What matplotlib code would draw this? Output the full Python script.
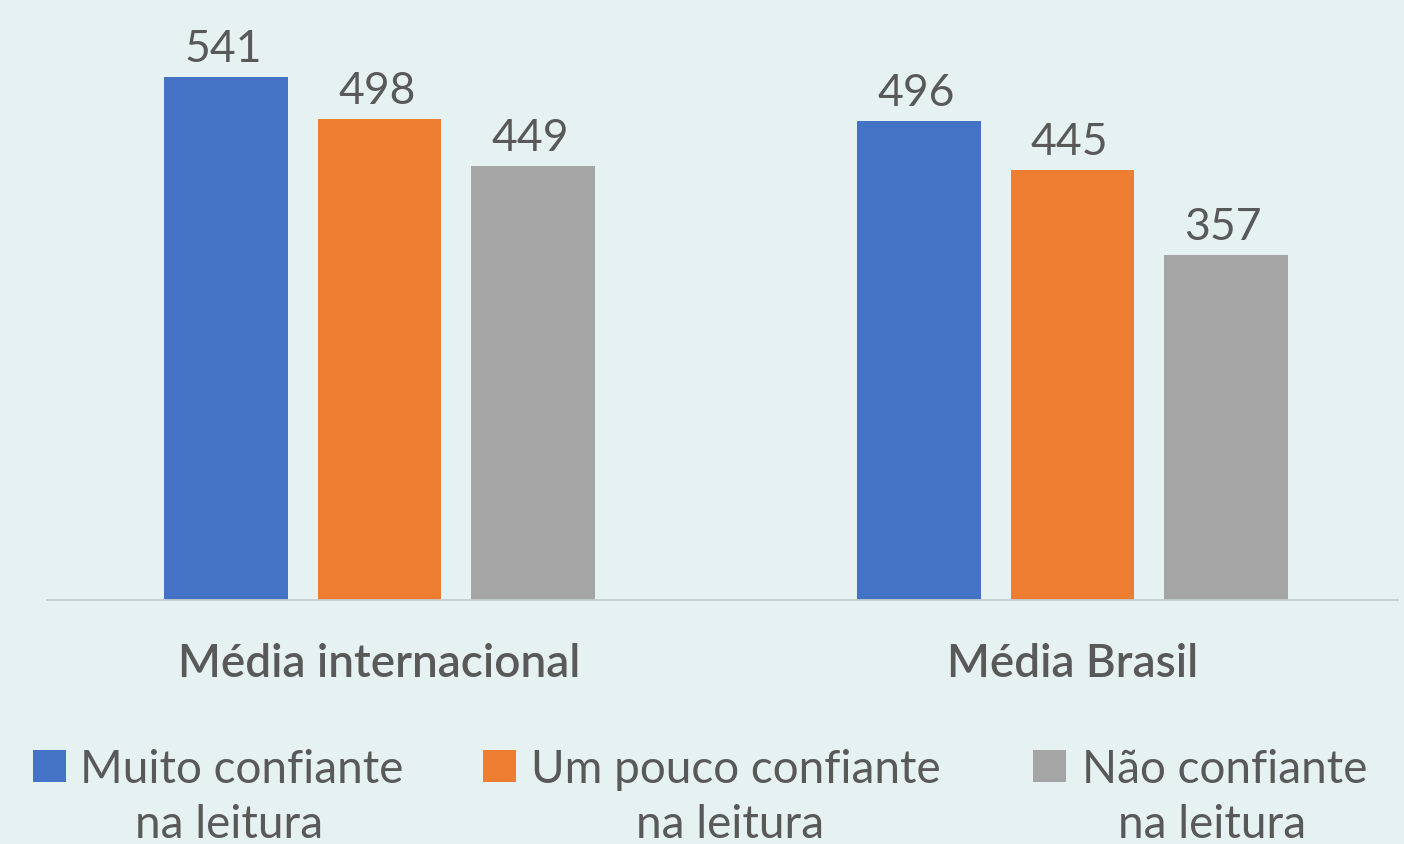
import numpy as np, matplotlib
matplotlib.use("Agg"); import matplotlib.pyplot as plt
from matplotlib.patches import Rectangle

plt.rcParams.update({"font.family":["Lato","DejaVu Sans"]})

categories=["Média internacional","Média Brasil"]
series=["Muito confiante\nna leitura","Um pouco confiante\nna leitura","Não confiante\nna leitura"]
muito=[541,496]
pouco=[498,445]
nao=[449,357]

colors=["#4472C4","#ED7D31","#A5A5A5"]
bg="#E6F2F1"; tc="#595959"

fig=plt.figure(figsize=(14.04,8.45),dpi=100,facecolor=bg)
ax=fig.add_axes([47/1404,1-601/845,1351/1404,601/845])
ax.set_facecolor(bg)

x=np.arange(len(categories))
w=0.1775; sp=0.2215
for k,(vals,c) in enumerate(zip([muito,pouco,nao],colors)):
    bars=ax.bar(x+(k-1)*sp,vals,width=w,color=c,zorder=2)
    for b,v in zip(bars,vals):
        ax.annotate(str(v),(b.get_x()+b.get_width()/2,v),xytext=(-2,11.5),textcoords="offset points",
                    ha="center",va="baseline",fontsize=32,color=tc)

ax.set_xlim(-0.4798,1.4697); ax.set_ylim(0,621.7)
for s in ["top","right","left"]: ax.spines[s].set_visible(False)
ax.spines["bottom"].set_color("#C5CECE"); ax.spines["bottom"].set_linewidth(1.3)
ax.set_yticks([])
ax.set_xticks(x); ax.set_xticklabels(categories,fontsize=33,color=tc,fontweight="semibold")
ax.tick_params(axis="x",length=0,pad=30)

# legend drawn by hand (centered two-line entries)
sq_x=[33,483,1033]; t1_x=[80,531,1082]; t2_x=[229,730,1212]
for c,lab,sx,tx1,tx2 in zip(colors,series,sq_x,t1_x,t2_x):
    l1,l2=lab.split("\n")
    fig.patches.append(Rectangle((sx/1404,1-783/845),33/1404,32/845,transform=fig.transFigure,
                                 facecolor=c,edgecolor="none"))
    fig.text(tx1/1404,1-783/845,l1,ha="left",va="baseline",fontsize=33,color=tc)
    fig.text(tx2/1404,1-838/845,l2,ha="center",va="baseline",fontsize=33,color=tc)

fig.savefig("out.png",dpi=100,facecolor=bg)
